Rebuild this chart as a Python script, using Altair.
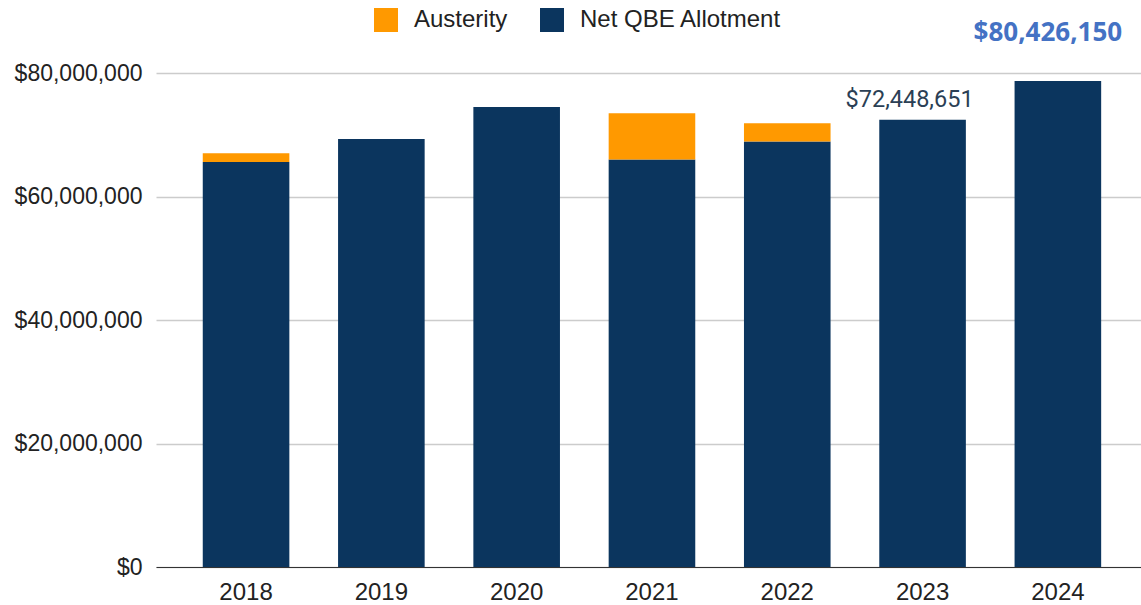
import altair as alt
import pandas as pd

years = ["2018", "2019", "2020", "2021", "2022", "2023", "2024"]
net_qbe = [65_600_000, 69_300_000, 74_500_000, 66_000_000, 68_900_000, 72_448_651, 78_700_000]
austerity = [1_400_000, 0, 0, 7_500_000, 2_950_000, 0, 0]
series = ["Austerity", "Net QBE Allotment"]
colors = ["#FF9900", "#0B355E"]
y_ticks = [0, 20_000_000, 40_000_000, 60_000_000, 80_000_000]

label_year = ["2023"]
label_value = [72_448_651]
label_text = ["$72,448,651"]
note_year = ["2024"]
note_text = ["$80,426,150"]

rows = []
for yr, n, a in zip(years, net_qbe, austerity):
    rows.append({"year": yr, "series": "Net QBE Allotment", "value": n, "ord": 0})
    rows.append({"year": yr, "series": "Austerity", "value": a, "ord": 1})
df = pd.DataFrame(rows)

lab_df = pd.DataFrame({"year": label_year, "value": label_value, "text": label_text})
note_df = pd.DataFrame({"year": note_year, "text": note_text})

FONT = "Liberation Sans"

x_enc = alt.X(
    "year:N",
    sort=years,
    scale=alt.Scale(paddingInner=0.36, paddingOuter=0.32, align=0.54),
    axis=alt.Axis(title=None, labelAngle=0, ticks=False, domainColor="#333333",
                  domainWidth=1.2, labelFontSize=24, labelFont=FONT,
                  labelColor="#222222", labelPadding=13, grid=False),
)

bars = alt.Chart(df).mark_bar().encode(
    x=x_enc,
    y=alt.Y("value:Q", stack="zero",
            scale=alt.Scale(domain=[0, 80_000_000], nice=False),
            axis=alt.Axis(title=None, format="$,.0f", values=y_ticks, ticks=False,
                          domain=False, gridColor="#cccccc", gridWidth=1.5,
                          labelFontSize=23, labelFont=FONT, labelColor="#222222",
                          labelPadding=14)),
    color=alt.Color("series:N", scale=alt.Scale(domain=series, range=colors),
                    legend=alt.Legend(title=None, orient="none", legendX=218, legendY=-65,
                                      direction="horizontal", symbolType="square",
                                      symbolSize=576, symbolStrokeWidth=0,
                                      symbolOpacity=1, labelFontSize=24,
                                      labelFont=FONT, labelColor="#222222",
                                      labelOffset=16, columnPadding=32, labelLimit=0)),
    order=alt.Order("ord:Q"),
)

value_label = alt.Chart(lab_df).mark_text(
    font="Roboto", fontSize=23.5, color="#2B3F55", baseline="bottom", dy=-8, dx=-13
).encode(x=alt.X("year:N", sort=years), y="value:Q", text="text:N")

note_label = alt.Chart(note_df).mark_text(
    font="Open Sans", fontSize=26, fontWeight="bold", color="#4472C4",
    baseline="middle", dx=-10
).encode(x=alt.X("year:N", sort=years), y=alt.value(-40), text="text:N")

chart = alt.layer(bars, value_label, note_label).properties(
    width=985, height=494,
    autosize=alt.AutoSizeParams(type="none"),
    padding={"left": 156, "top": 73, "right": 0, "bottom": 38},
).configure_view(stroke=None)

chart.save("out.html", embed_options={"renderer": "svg", "actions": False})
